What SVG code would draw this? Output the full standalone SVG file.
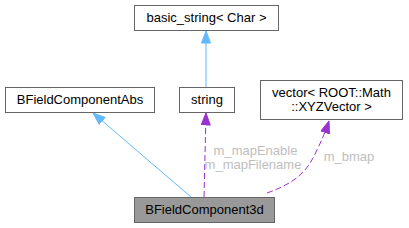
<svg xmlns="http://www.w3.org/2000/svg" width="409" height="228" viewBox="0 0 409 228">
<style>
.box{fill:#ffffff;stroke:#666666;stroke-width:1}
.cur{fill:#999999;stroke:#666666;stroke-width:1}
.t{font-family:"Liberation Sans",Arial,sans-serif;font-size:13px;fill:#000000;text-anchor:middle}
.lbl{font-family:"Liberation Sans",Arial,sans-serif;font-size:13px;fill:#bebebe;text-anchor:middle}
.inh{fill:none;stroke:#63b8ff;stroke-width:1}
.use{fill:none;stroke:#9a32cd;stroke-width:1;stroke-dasharray:6,3}
</style>
<defs>
<marker id="ab" markerWidth="13" markerHeight="10" refX="12.5" refY="5" orient="auto" markerUnits="userSpaceOnUse" viewBox="0 0 13 10">
<path d="M0.5,0.5 L12.5,5 L0.5,9.5 Z" fill="#63b8ff" stroke="#63b8ff"/>
</marker>
<marker id="ap" markerWidth="13" markerHeight="10" refX="12.5" refY="5" orient="auto" markerUnits="userSpaceOnUse" viewBox="0 0 13 10">
<path d="M0.5,0.5 L12.5,5 L0.5,9.5 Z" fill="#9a32cd" stroke="#9a32cd"/>
</marker>
</defs>
<g id="connectors">
<path class="inh" d="M206,87 L206,31" marker-end="url(#ab)"/>
<path class="inh" d="M191,197 L93,113" marker-end="url(#ab)"/>
<path class="use" d="M204,197 L206,113" marker-end="url(#ap)"/>
<path class="use" d="M267,193 C295,183 307,172 316,152 C322,140 326,130 329,121" marker-end="url(#ap)"/>
<text class="lbl" x="255.5" y="154.5">m_mapEnable</text>
<text class="lbl" x="253" y="168.5">m_mapFilename</text>
<text class="lbl" x="349" y="160.5">m_bmap</text>
</g>
<g id="node-basic_string">
<rect class="box" x="134.5" y="5.5" width="144" height="25"/>
<text class="t" x="206.5" y="22">basic_string&lt; Char &gt;</text>
</g>
<g id="node-BFieldComponentAbs">
<rect class="box" x="5.5" y="87.5" width="149" height="25"/>
<text class="t" x="80" y="104">BFieldComponentAbs</text>
</g>
<g id="node-string">
<rect class="box" x="179.5" y="87.5" width="55" height="25"/>
<text class="t" x="207" y="104">string</text>
</g>
<g id="node-vector">
<rect class="box" x="260.5" y="80.5" width="142" height="39"/>
<text class="t" x="331.5" y="96.5">vector&lt; ROOT::Math</text>
<text class="t" x="331.5" y="111">::XYZVector &gt;</text>
</g>
<g id="node-BFieldComponent3d">
<rect class="cur" x="134.5" y="197.5" width="140" height="25"/>
<text class="t" x="204.5" y="214">BFieldComponent3d</text>
</g>
</svg>
